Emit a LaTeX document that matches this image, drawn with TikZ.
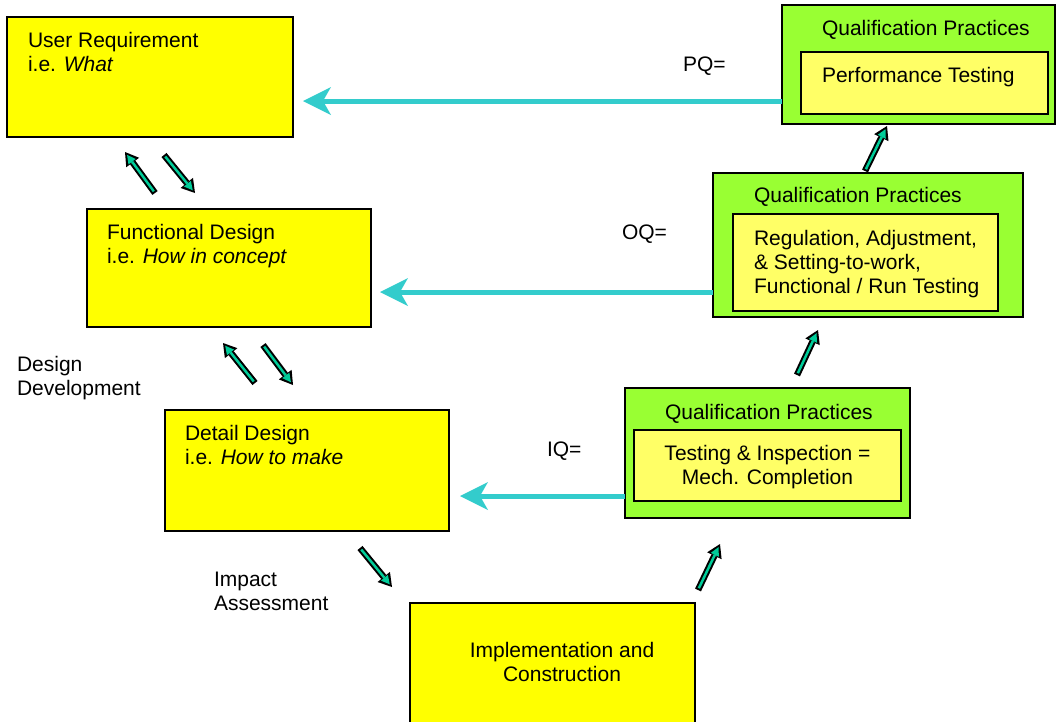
\documentclass[tikz,border=0pt]{standalone}
\usepackage{fontspec}
\setmainfont{Liberation Sans}
\usetikzlibrary{arrows.meta, positioning}

\definecolor{stageyellow}{HTML}{FFFF00}
\definecolor{qualgreen}{HTML}{99FF33}
\definecolor{practiceyellow}{HTML}{FFFF66}
\definecolor{linkcyan}{HTML}{33CCCC}
\definecolor{stepteal}{HTML}{00CC99}

\newcommand{\stepflow}[2]{%
  \draw[flowout] (#1) -- (#2);
  \draw[flowin] (#1) -- (#2);}

\begin{document}
\begin{tikzpicture}[x=1pt, y=-1pt,
    every node/.style={font=\fontsize{21}{24}\selectfont, inner sep=0pt, outer sep=0pt},
    stagebox/.style={draw=black, line width=2.5pt, fill=stageyellow, anchor=north west},
    qualbox/.style={draw=black, line width=2.5pt, fill=qualgreen, anchor=north west},
    practicebox/.style={draw=black, line width=2.5pt, fill=practiceyellow, anchor=north west},
    boxtext/.style={anchor=north west, align=left},
    qarrow/.style={linkcyan, line width=5pt, -{Stealth[length=28pt, width=28pt, inset=8pt, line width=0pt]}},
    flowout/.style={black, line width=6.5pt, -{Triangle[length=13pt, width=16pt, line width=0pt]}},
    flowin/.style={stepteal, line width=2.5pt, shorten <=2pt, shorten >=3.5pt, -{Triangle[length=8.5pt, width=9pt, line width=0pt]}}]
    \useasboundingbox (0,0) rectangle (1056,721);
    \clip (0,0) rectangle (1056,721);

    % Design side
    \node[stagebox, minimum width=286pt, minimum height=120pt] (userreq) at (7,17) {};
    \node[boxtext, below right=15pt and 21pt of userreq.north west] (userreqtext) {User Requirement\\i.e. \textit{What}};
    \node[stagebox, minimum width=284pt, minimum height=118pt] (funcdes) at (87,209) {};
    \node[boxtext, below right=15pt and 20pt of funcdes.north west] (funcdestext) {Functional Design\\i.e. \textit{How in concept}};
    \node[stagebox, minimum width=284pt, minimum height=121pt] (detdes) at (165,410) {};
    \node[boxtext, below right=15pt and 20pt of detdes.north west] (detdestext) {Detail Design\\i.e. \textit{How to make}};
    \node[stagebox, minimum width=285pt, minimum height=140pt] (impl) at (410,603) {};
    \node[align=center, anchor=north] (impltext) at ([xshift=9.5pt, yshift=-39pt]impl.north) {Implementation and\\Construction};

    % Side labels
    \node[boxtext] (designdev) at (17,356) {Design\\Development};
    \node[boxtext] (impact) at (214,572) {Impact\\Assessment};

    % Qualification practices
    \node[qualbox, minimum width=273pt, minimum height=119pt] (pqbox) at (782,5) {};
    \node[boxtext, below right=15pt and 40pt of pqbox.north west] (pqtitle) {Qualification Practices};
    \node[practicebox, minimum width=247pt, minimum height=62pt] (pqinner) at (801,52) {};
    \node[boxtext, below right=15pt and 21pt of pqinner.north west] (pqtext) {Performance Testing};

    \node[qualbox, minimum width=310pt, minimum height=144pt] (oqbox) at (713,173) {};
    \node[boxtext, below right=14pt and 41pt of oqbox.north west] (oqtitle) {Qualification Practices};
    \node[practicebox, minimum width=265pt, minimum height=97pt] (oqinner) at (733,214) {};
    \node[boxtext, below right=16pt and 21pt of oqinner.north west] (oqtext) {Regulation, Adjustment,\\\& Setting-to-work,\\Functional / Run Testing};

    \node[qualbox, minimum width=285pt, minimum height=130pt] (iqbox) at (625,388) {};
    \node[boxtext, below right=16pt and 40pt of iqbox.north west] (iqtitle) {Qualification Practices};
    \node[practicebox, minimum width=267pt, minimum height=71pt] (iqinner) at (634,430) {};
    \node[align=center, anchor=north, below=15pt of iqinner.north] (iqtext) {Testing \& Inspection =\\Mech. Completion};

    % PQ / OQ / IQ links
    \node[boxtext] (pqlabel) at (683,57) {PQ=};
    \node[boxtext] (oqlabel) at (622,225) {OQ=};
    \node[boxtext] (iqlabel) at (547,442) {IQ=};
    \coordinate (pqtip) at (303,101);
    \coordinate (oqtip) at (380,292);
    \coordinate (iqtip) at (460,496);
    \draw[qarrow] (pqtip -| pqbox.west) -- (pqtip);
    \draw[qarrow] (oqtip -| oqbox.west) -- (oqtip);
    \draw[qarrow] (iqtip -| iqbox.west) -- (iqtip);

    % Step arrows
    \coordinate (urup) at (125,152);   \coordinate (fdupfrom) at (155,193);
    \coordinate (urdown) at (164,155); \coordinate (fddown) at (195,193);
    \coordinate (fdup) at (223,343);   \coordinate (ddupfrom) at (255,383);
    \coordinate (fdfrom) at (263,345); \coordinate (dddown) at (293,385);
    \coordinate (ddfrom) at (360,548); \coordinate (impldown) at (392,587);
    \coordinate (implup) at (698,590); \coordinate (iqup) at (720,544);
    \coordinate (iqfrom) at (797,375); \coordinate (oqup) at (818,330);
    \coordinate (oqfrom) at (865,171); \coordinate (pqup) at (887,126);
    \stepflow{fdupfrom}{urup}
    \stepflow{urdown}{fddown}
    \stepflow{ddupfrom}{fdup}
    \stepflow{fdfrom}{dddown}
    \stepflow{ddfrom}{impldown}
    \stepflow{implup}{iqup}
    \stepflow{iqfrom}{oqup}
    \stepflow{oqfrom}{pqup}
\end{tikzpicture}
\end{document}
